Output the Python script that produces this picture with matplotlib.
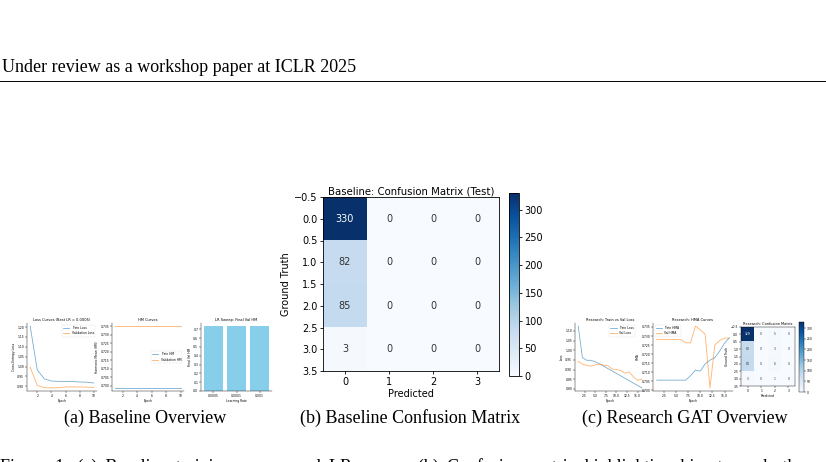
import matplotlib
matplotlib.use("Agg")
import matplotlib.pyplot as plt
import numpy as np

W, H = 826, 462

# (a) baseline curves
base_epochs = list(range(1, 11))
base_train_loss = [1.205, 0.983, 0.938, 0.927, 0.925, 0.925, 0.924, 0.922, 0.921, 0.917]
base_val_loss = [0.997, 0.905, 0.893, 0.892, 0.893, 0.897, 0.897, 0.897, 0.896, 0.894]
base_train_hm = [0.6987] * 10
base_val_hm = [0.7352] * 10
lr_labels = ["0.0005", "0.0001", "0.001"]
lr_final_hm = [0.7335, 0.7335, 0.7335]

# (b) baseline confusion matrix
baseline_cm = np.array([[330, 0, 0, 0],
                        [82, 0, 0, 0],
                        [85, 0, 0, 0],
                        [3, 0, 0, 0]])

# (c) research GAT curves
res_epochs = list(range(1, 17))
res_train_loss = [1.125, 0.962, 0.948, 0.948, 0.940, 0.930, 0.918, 0.905,
                  0.893, 0.880, 0.868, 0.855, 0.843, 0.830, 0.818, 0.805]
res_val_loss = [0.943, 0.928, 0.921, 0.918, 0.925, 0.928, 0.922, 0.920,
                0.903, 0.900, 0.896, 0.881, 0.888, 0.863, 0.844, 0.851]
res_train_hma = [0.7055, 0.7055, 0.7055, 0.7055, 0.7055, 0.7055, 0.7055, 0.7080,
                 0.7110, 0.7105, 0.7145, 0.7166, 0.7180, 0.7216, 0.7260, 0.7290]
res_val_hma = [0.7280, 0.7280, 0.7280, 0.7280, 0.7280, 0.7280, 0.7262, 0.7262,
               0.7355, 0.7335, 0.7310, 0.7012, 0.7250, 0.7275, 0.7288, 0.7288]
research_cm = np.array([[329, 0, 5, 0],
                        [80, 0, 3, 0],
                        [84, 0, 6, 0],
                        [3, 0, 1, 0]])

fig = plt.figure(figsize=(W / 100, H / 100), dpi=100)


def px_axes(l, t, r, b):
    return fig.add_axes([l / W, 1 - b / H, (r - l) / W, (b - t) / H])


def tiny(ax, fs=2.2):
    ax.tick_params(labelsize=fs, length=1.2, width=0.3, pad=0.8)
    for s in ax.spines.values():
        s.set_linewidth(0.3)
    ax.spines['top'].set_visible(False)
    ax.spines['right'].set_visible(False)


# header
fig.text(2 / W, 1 - 68 / H, "Under review as a workshop paper at ICLR 2025",
         family="Liberation Serif", fontsize=13, va="center", ha="left")
fig.add_artist(plt.Line2D([0, 1], [1 - 81 / H, 1 - 81 / H], color="black", lw=0.7))

# (a) loss curves
ax = px_axes(27, 323, 97, 391)
ax.plot(base_epochs, base_train_loss, lw=0.6, alpha=0.6, label="Train Loss")
ax.plot(base_epochs, base_val_loss, lw=0.6, alpha=0.6, label="Validation Loss")
ax.set_yticks(np.arange(0.90, 1.201, 0.05))
ax.set_title("Loss Curves (Best LR = 0.0005)", fontsize=2.6, pad=1.5)
ax.set_xlabel("Epoch", fontsize=2.2, labelpad=1)
ax.set_ylabel("Cross-Entropy Loss", fontsize=2.2, labelpad=1)
ax.legend(fontsize=2.2, loc="upper right", frameon=True, framealpha=0.8,
          edgecolor="#dddddd").get_frame().set_linewidth(0.3)
tiny(ax)

ax = px_axes(112, 323, 184, 391)
ax.plot(base_epochs, base_train_hm, lw=0.6, alpha=0.6, label="Train HM")
ax.plot(base_epochs, base_val_hm, lw=0.6, alpha=0.6, label="Validation HM")
ax.set_yticks(np.arange(0.700, 0.7351, 0.005))
ax.set_title("HM Curves", fontsize=2.6, pad=1.5)
ax.set_xlabel("Epoch", fontsize=2.2, labelpad=1)
ax.set_ylabel("Harmonic Mean (HM)", fontsize=2.2, labelpad=1)
ax.legend(fontsize=2.2, loc="center right", frameon=True, framealpha=0.8,
          edgecolor="#dddddd").get_frame().set_linewidth(0.3)
tiny(ax)

ax = px_axes(201, 323, 272, 391)
ax.bar(lr_labels, lr_final_hm, color="skyblue")
ax.set_title("LR Sweep: Final Val HM", fontsize=2.6, pad=1.5)
ax.set_xlabel("Learning Rate", fontsize=2.2, labelpad=1)
ax.set_ylabel("Final Val HM", fontsize=2.2, labelpad=1)
tiny(ax)

# (b) baseline confusion matrix
ax = px_axes(323, 197, 499, 371)
im = ax.imshow(baseline_cm, cmap="Blues", aspect="auto")
for i in range(4):
    for j in range(4):
        v = baseline_cm[i, j]
        ax.text(j, i, str(v), ha="center", va="center", fontsize=7,
                color="white" if v > baseline_cm.max() / 2 else "#333333")
ax.set_xticks(range(4))
ax.set_yticks(np.arange(-0.5, 3.6, 0.5))
ax.set_ylim(3.5, -0.5)
ax.tick_params(labelsize=7, length=2.5, width=0.6, pad=1.5)
ax.set_title("Baseline: Confusion Matrix (Test)", fontsize=7.3, pad=2)
ax.set_xlabel("Predicted", fontsize=7, labelpad=2)
ax.set_ylabel("Ground Truth", fontsize=7, labelpad=2)
for s in ax.spines.values():
    s.set_linewidth(0.6)
cax = px_axes(509, 193, 519, 376)
cb = fig.colorbar(im, cax=cax, ticks=np.arange(0, 301, 50))
cb.ax.tick_params(labelsize=7, length=2.5, width=0.6, pad=1.5)
cb.outline.set_linewidth(0.6)

# (c) research curves
ax = px_axes(575, 323, 645, 391)
ax.plot(res_epochs, res_train_loss, lw=0.6, alpha=0.6, label="Train Loss")
ax.plot(res_epochs, res_val_loss, lw=0.6, alpha=0.6, label="Val Loss")
ax.set_yticks(np.arange(0.80, 1.101, 0.05))
ax.set_title("Research: Train vs Val Loss", fontsize=2.6, pad=1.5)
ax.set_xlabel("Epoch", fontsize=2.2, labelpad=1)
ax.set_ylabel("Loss", fontsize=2.2, labelpad=1)
ax.legend(fontsize=2.2, loc="upper right", bbox_to_anchor=(0.88, 1.0), frameon=True,
          framealpha=0.8, edgecolor="#dddddd").get_frame().set_linewidth(0.3)
tiny(ax)

ax = px_axes(653, 323, 733, 391)
ax.plot(res_epochs, res_train_hma, lw=0.6, alpha=0.6, label="Train HMA")
ax.plot(res_epochs, res_val_hma, lw=0.6, alpha=0.6, label="Val HMA")
ax.set_yticks(np.arange(0.700, 0.7351, 0.005))
ax.set_title("Research: HMA Curves", fontsize=2.6, pad=1.5)
ax.set_xlabel("Epoch", fontsize=2.2, labelpad=1)
ax.set_ylabel("HMA", fontsize=2.2, labelpad=1)
ax.legend(fontsize=2.2, loc="upper left", frameon=True, framealpha=0.8,
          edgecolor="#dddddd").get_frame().set_linewidth(0.3)
tiny(ax)

ax = px_axes(741, 327, 795, 386)
im = ax.imshow(research_cm, cmap="Blues", aspect="auto")
for i in range(4):
    for j in range(4):
        v = research_cm[i, j]
        ax.text(j, i, str(v), ha="center", va="center", fontsize=2.2,
                color="white" if v > research_cm.max() / 2 else "#333333")
ax.set_xticks(range(4))
ax.set_yticks(np.arange(-0.5, 3.6, 0.5))
ax.set_ylim(3.5, -0.5)
ax.tick_params(labelsize=2.2, length=1.2, width=0.3, pad=0.8)
ax.set_title("Research: Confusion Matrix", fontsize=2.6, pad=1.2)
ax.set_xlabel("Predicted", fontsize=2.2, labelpad=1)
ax.set_ylabel("Ground Truth", fontsize=2.2, labelpad=1)
for s in ax.spines.values():
    s.set_linewidth(0.3)
cax = px_axes(799, 322, 804, 392)
cb = fig.colorbar(im, cax=cax, ticks=np.arange(0, 301, 50))
cb.ax.tick_params(labelsize=2.2, length=1.2, width=0.3, pad=0.8)
cb.outline.set_linewidth(0.3)

# sub-captions
for x, txt in [(145, "(a) Baseline Overview"), (410, "(b) Baseline Confusion Matrix"),
               (685, "(c) Research GAT Overview")]:
    fig.text(x / W, 1 - 418 / H, txt, family="Liberation Serif", fontsize=13,
             ha="center", va="center")

# figure caption, justified line cut off by the page edge
caption = ("Figure 1: (a) Baseline training curves and LR sweep. (b) Confusion matrix "
           "highlighting bias towards the majority class.")
fig.text(0, 1 - 458 / H, caption.replace(" ", " \u2009"),
         family=["Liberation Serif", "DejaVu Serif"], fontsize=13, ha="left", va="top")

fig.savefig("out.png", dpi=100)
